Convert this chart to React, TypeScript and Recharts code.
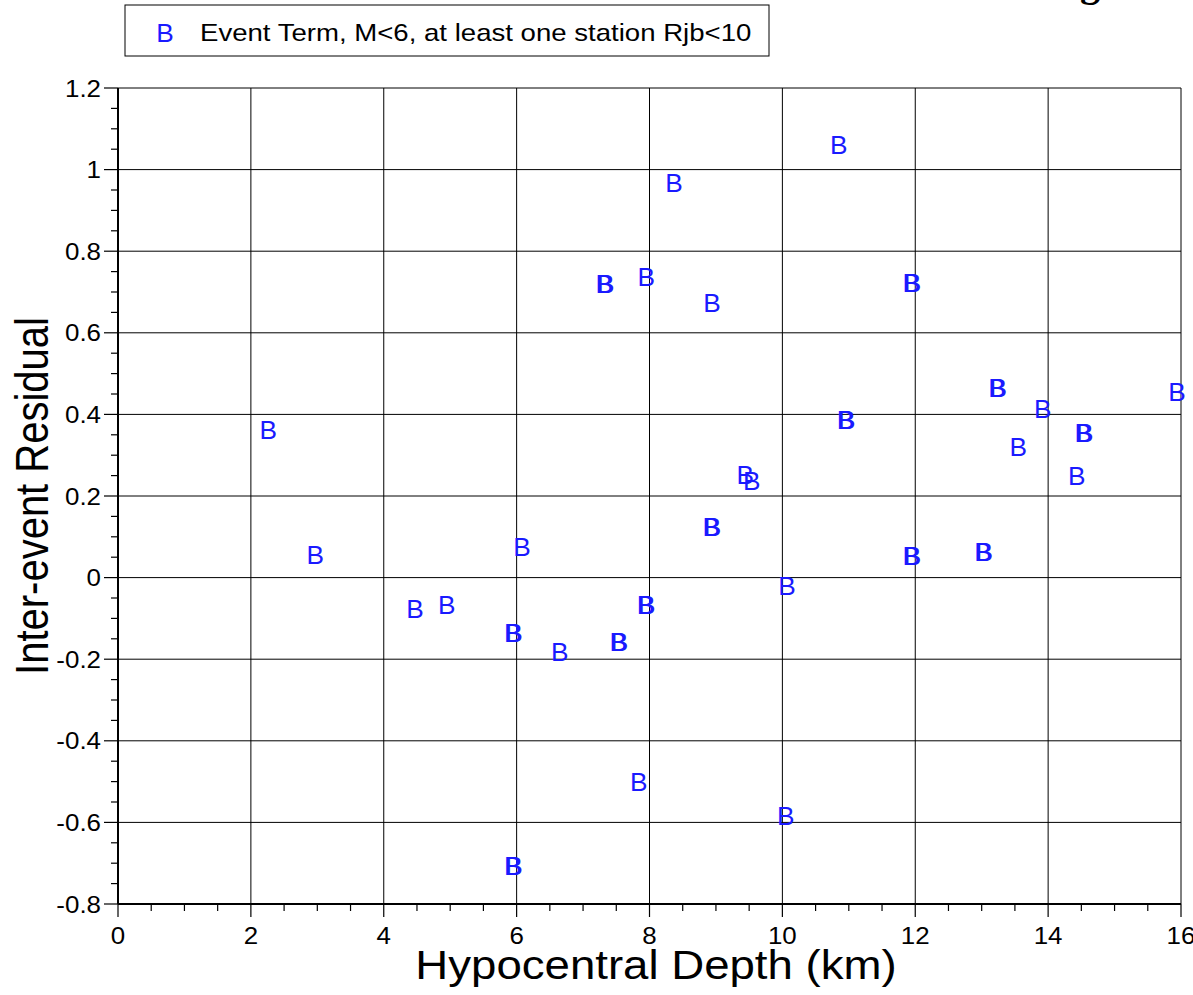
import React from 'react';
import { ScatterChart, Scatter, XAxis, YAxis, ReferenceLine, Legend } from 'recharts';

// hypocentral depth (km) and inter-event residual
const depth = [
  2.26, 2.97, 4.47, 4.95, 5.94, 5.96, 6.08, 6.65, 5.94, 5.96,
  7.32, 7.34, 7.95, 8.37, 8.94, 7.53, 7.55, 7.94, 7.96, 7.84,
  8.93, 8.95, 9.44, 9.54, 10.07, 10.05, 10.85, 10.95, 10.97, 11.94,
  11.96, 11.94, 11.96, 13.02, 13.04, 13.23, 13.25, 13.55, 13.92, 14.53,
  14.55, 14.43, 15.94,
];
const residual = [
  0.362, 0.055, -0.077, -0.067, -0.136, -0.136, 0.075, -0.182, -0.707, -0.707,
  0.72, 0.72, 0.737, 0.967, 0.673, -0.158, -0.158, -0.067, -0.067, -0.501,
  0.124, 0.124, 0.251, 0.237, -0.021, -0.584, 1.06, 0.386, 0.386, 0.722,
  0.722, 0.053, 0.053, 0.063, 0.063, 0.465, 0.465, 0.32, 0.413, 0.354,
  0.354, 0.249, 0.455,
];

const xMajorTicks = [0, 2, 4, 6, 8, 10, 12, 14, 16];
const yMajorTicks = [-0.8, -0.6, -0.4, -0.2, 0, 0.2, 0.4, 0.6, 0.8, 1, 1.2];
const seriesName = 'Event Term, M<6, at least one station Rjb<10';

const BLUE = '#1a1aff';
const FONT = '"Liberation Sans", Arial, sans-serif';
const SX = 1.14;
const TICK_SX = 1.08;
const B_SX = 1.05;

const data = depth.map((d, i) => ({ x: d, y: residual[i] }));

// 3 minor ticks between each pair of major ticks
const withMinors = (majors: number[]) => {
  const out: number[] = [];
  for (let i = 0; i < majors.length - 1; i++) {
    const step = (majors[i + 1] - majors[i]) / 4;
    for (let k = 0; k < 4; k++) out.push(+(majors[i] + k * step).toFixed(4));
  }
  out.push(majors[majors.length - 1]);
  return out;
};
const xTicks = withMinors(xMajorTicks);
const yTicks = withMinors(yMajorTicks);

const isMajor = (v: number, majors: number[]) => majors.some((m) => Math.abs(m - v) < 1e-6);
const fmt = (v: number) => String(Math.round(v * 10) / 10);

const YTick = (props: any) => {
  const { x, y, payload } = props;
  const major = isMajor(payload.value, yMajorTicks);
  return (
    <g>
      <line x1={x - (major ? 14 : 7)} x2={x} y1={y} y2={y} stroke="#000" strokeWidth={1.2} />
      {major && (
        <text
          transform={`translate(${x - 17},${y + 8.5}) scale(${TICK_SX},1)`}
          textAnchor="end"
          fontSize={24}
          fontFamily={FONT}
          fill="#000"
        >
          {fmt(payload.value)}
        </text>
      )}
    </g>
  );
};

const XTick = (props: any) => {
  const { x, y, payload } = props;
  const major = isMajor(payload.value, xMajorTicks);
  return (
    <g>
      <line x1={x} x2={x} y1={y} y2={y + (major ? 13 : 7)} stroke="#000" strokeWidth={1.2} />
      {major && (
        <text
          transform={`translate(${x},${y + 40}) scale(${TICK_SX},1)`}
          textAnchor="middle"
          fontSize={24}
          fontFamily={FONT}
          fill="#000"
        >
          {fmt(payload.value)}
        </text>
      )}
    </g>
  );
};

const YTitle = (props: any) => {
  const vb = props.viewBox || { y: 88, height: 816 };
  const cy = vb.y + vb.height / 2;
  return (
    <text
      transform={`translate(48,${cy}) scale(${SX},1) rotate(-90)`}
      textAnchor="middle"
      fontSize={40}
      fontFamily={FONT}
      fill="#000"
    >
      Inter-event Residual
    </text>
  );
};

const XTitle = () => (
  <text
    transform={`translate(656,979) scale(${SX},1)`}
    textAnchor="middle"
    fontSize={40}
    fontFamily={FONT}
    fill="#000"
  >
    Hypocentral Depth (km)
  </text>
);

const LetterB = (props: any) => {
  const { cx, cy } = props;
  return (
    <text
      transform={`translate(${cx},${cy + 9}) scale(${B_SX},1)`}
      textAnchor="middle"
      fontSize={25}
      fontFamily={FONT}
      fill={BLUE}
    >
      B
    </text>
  );
};

const LegendBox = () => (
  <svg width={646} height={56} style={{ display: 'block' }}>
    <rect x={1} y={1} width={644} height={51} fill="#fff" stroke="#000" strokeWidth={1} />
    <text transform={`translate(41,38) scale(${B_SX},1)`} textAnchor="middle" fontSize={25} fontFamily={FONT} fill={BLUE}>
      B
    </text>
    <text transform={`translate(76,37) scale(${SX},1)`} fontSize={24.2} fontFamily={FONT} fill="#000">
      {seriesName}
    </text>
  </svg>
);

export default function App() {
  return (
    <div style={{ position: 'absolute', left: 0, top: 0, width: 1193, height: 995, overflow: 'hidden', background: '#fff' }}>
      <div
        style={{
          position: 'absolute',
          left: 1080,
          top: -37,
          fontFamily: '"Liberation Serif", "Times New Roman", serif',
          fontWeight: 'bold',
          fontSize: 40,
          lineHeight: 1,
          zIndex: 2,
        }}
      >
        g
      </div>
      <ScatterChart width={1193} height={995} margin={{ top: 32, right: 12, bottom: 0, left: 0 }}>
        <Legend
          verticalAlign="top"
          align="left"
          content={() => <LegendBox />}
          wrapperStyle={{ top: 4, left: 124, width: 646 }}
        />
        <XAxis
          type="number"
          dataKey="x"
          domain={[0, 16]}
          ticks={xTicks}
          interval={0}
          height={91}
          tickSize={0}
          tickMargin={0}
          tickLine={false}
          axisLine={{ stroke: '#000', strokeWidth: 2 }}
          tick={(p: any) => <XTick {...p} />}
          label={<XTitle />}
        />
        <YAxis
          type="number"
          dataKey="y"
          domain={[-0.8, 1.2]}
          ticks={yTicks}
          interval={0}
          width={118}
          tickSize={0}
          tickMargin={0}
          tickLine={false}
          axisLine={{ stroke: '#000', strokeWidth: 2 }}
          tick={(p: any) => <YTick {...p} />}
          label={<YTitle />}
        />
        {xMajorTicks.slice(1).map((v) => (
          <ReferenceLine key={'vx' + v} x={v} stroke="#000" strokeWidth={1} />
        ))}
        {yMajorTicks.slice(1).map((v) => (
          <ReferenceLine key={'hy' + v} y={v} stroke="#000" strokeWidth={1} />
        ))}
        <Scatter name={seriesName} data={data} fill={BLUE} shape={LetterB} isAnimationActive={false} />
      </ScatterChart>
    </div>
  );
}
